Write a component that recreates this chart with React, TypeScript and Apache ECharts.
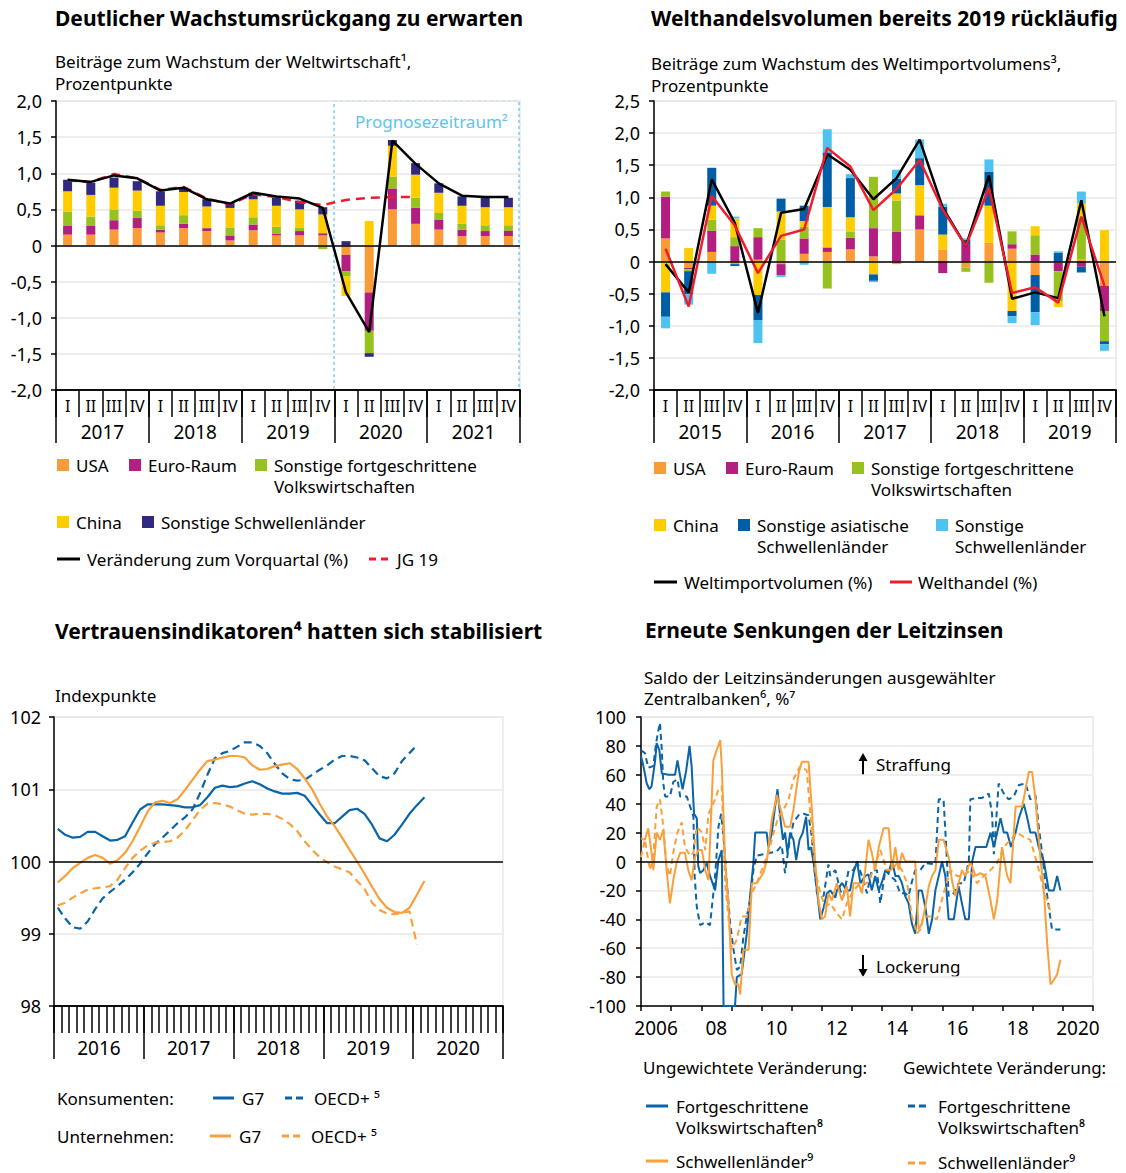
import React, { useEffect, useRef } from 'react';
import * as echarts from 'echarts';

const FONT = 'Noto Sans';

// ---------- Panel 1: Weltwirtschaft ----------
const quarterLabels = ['I', 'II', 'III', 'IV'];
const years1 = ['2017', '2018', '2019', '2020', '2021'];
const usa1 = [0.15, 0.15, 0.22, 0.24, 0.18, 0.24, 0.2, 0.07, 0.21, 0.14, 0.14, 0.14, -0.13, -0.65, 0.5, 0.3, 0.22, 0.13, 0.13, 0.13];
const euro1 = [0.12, 0.12, 0.13, 0.14, 0.04, 0.06, 0.04, 0.07, 0.08, 0.02, 0.06, 0.03, -0.23, -0.53, 0.29, 0.22, 0.14, 0.09, 0.07, 0.07];
const sonstFort1 = [0.2, 0.13, 0.15, 0.1, 0.06, 0.12, 0.01, 0.11, 0.1, 0.1, 0.05, -0.05, -0.07, -0.31, 0.16, 0.14, 0.09, 0.08, 0.08, 0.08];
const china1 = [0.28, 0.3, 0.3, 0.28, 0.27, 0.32, 0.29, 0.27, 0.25, 0.29, 0.25, 0.26, -0.27, 0.34, 0.43, 0.32, 0.28, 0.25, 0.25, 0.25];
const schwellen1 = [0.16, 0.17, 0.14, 0.13, 0.2, 0.06, 0.1, 0.07, 0.09, 0.13, 0.12, 0.1, 0.06, -0.05, 0.08, 0.16, 0.13, 0.13, 0.13, 0.13];
const vorquartal1 = [0.91, 0.88, 0.97, 0.93, 0.76, 0.8, 0.64, 0.58, 0.73, 0.68, 0.65, 0.52, -0.65, -1.2, 1.45, 1.13, 0.86, 0.69, 0.67, 0.67];
const jg19 = [0.9, 0.88, 0.99, 0.93, 0.77, 0.81, 0.65, 0.57, 0.71, 0.67, 0.6, 0.56, 0.63, 0.66, 0.67, 0.67, null, null, null, null];

// ---------- Panel 2: Welthandel ----------
const years2 = ['2015', '2016', '2017', '2018', '2019'];
const usa2 = [0.36, -0.1, 0.15, -0.04, 0.03, -0.04, 0.12, 0.15, 0.19, 0.08, -0.04, 0.5, 0.19, -0.09, 0.29, 0.2, -0.21, -0.02, 0.03, -0.38];
const euro2 = [0.65, -0.02, 0.33, 0.24, 0.35, -0.17, 0.24, 0.07, 0.18, 0.44, 0.46, 0.22, -0.18, 0.26, 0, 0.07, 0.11, -0.13, -0.08, -0.39];
const fort2 = [0.08, -0.03, 0.17, 0.14, 0.14, 0.34, 0.18, -0.42, 0.1, 0.8, 0.49, 0, 0, -0.07, -0.33, 0.2, 0.3, -0.47, 0.65, -0.47];
const china2 = [-0.48, 0.21, 0.22, 0.29, -0.52, 0.44, 0.09, 0.63, 0.22, -0.2, 0.11, 0.47, 0.23, 0, 0.58, -0.77, 0.14, -0.09, 0.23, 0.49];
const asien2 = [-0.38, -0.36, 0.59, -0.03, -0.39, 0.2, 0.24, 0.85, 0.61, -0.1, 0.23, 0.42, 0.43, 0.08, 0.53, -0.08, -0.58, 0.14, -0.09, -0.05];
const sonst2 = [-0.18, -0.16, -0.19, 0.03, -0.36, -0.03, -0.05, 0.36, 0.06, -0.02, 0.14, 0.29, 0.05, 0.02, 0.19, -0.11, -0.2, 0.02, 0.18, -0.1];
const weltimport2 = [-0.04, -0.48, 1.28, 0.6, -0.8, 0.76, 0.82, 1.67, 1.43, 0.97, 1.3, 1.9, 0.84, 0.24, 1.34, -0.58, -0.48, -0.57, 0.955, -0.85];
const welthandel2 = [0.2, -0.7, 1.02, 0.56, -0.18, 0.4, 0.5, 1.77, 1.48, 0.8, 1.13, 1.58, 0.81, 0.24, 1.15, -0.49, -0.4, -0.64, 0.7, -0.38];

// ---------- Panel 3: Vertrauensindikatoren ----------
const years3 = ['2016', '2017', '2018', '2019', '2020'];
const konsG7 = [100.45, 100.37, 100.33, 100.34, 100.41, 100.41, 100.35, 100.29, 100.3, 100.35, 100.54, 100.72, 100.79, 100.79, 100.79, 100.78, 100.77, 100.75, 100.75, 100.78, 100.89, 101.02, 101.05, 101.03, 101.04, 101.08, 101.11, 101.07, 101.01, 100.97, 100.94, 100.94, 100.95, 100.91, 100.78, 100.65, 100.53, 100.53, 100.62, 100.71, 100.73, 100.66, 100.51, 100.32, 100.28, 100.37, 100.51, 100.66, 100.78, 100.89];
const konsOECD = [99.36, 99.21, 99.09, 99.07, 99.17, 99.34, 99.49, 99.58, 99.66, 99.75, 99.85, 99.97, 100.11, 100.24, 100.33, 100.43, 100.53, 100.61, 100.72, 100.94, 101.2, 101.43, 101.5, 101.53, 101.59, 101.65, 101.65, 101.6, 101.5, 101.35, 101.22, 101.14, 101.12, 101.13, 101.2, 101.27, 101.33, 101.41, 101.46, 101.46, 101.44, 101.4, 101.29, 101.18, 101.15, 101.22, 101.39, 101.5, 101.61];
const untG7 = [99.71, 99.8, 99.91, 99.98, 100.05, 100.09, 100.05, 99.97, 100.02, 100.12, 100.28, 100.48, 100.69, 100.82, 100.84, 100.81, 100.86, 100.99, 101.13, 101.27, 101.39, 101.41, 101.44, 101.46, 101.46, 101.44, 101.33, 101.27, 101.28, 101.32, 101.34, 101.36, 101.28, 101.15, 101.0, 100.8, 100.62, 100.49, 100.33, 100.16, 100.0, 99.83, 99.65, 99.48, 99.36, 99.3, 99.29, 99.36, 99.54, 99.73];
const untOECD = [99.39, 99.43, 99.5, 99.56, 99.61, 99.63, 99.64, 99.66, 99.75, 99.91, 100.05, 100.15, 100.22, 100.26, 100.27, 100.28, 100.33, 100.43, 100.57, 100.71, 100.8, 100.81, 100.79, 100.76, 100.71, 100.66, 100.65, 100.66, 100.66, 100.64, 100.59, 100.52, 100.42, 100.28, 100.16, 100.06, 99.99, 99.93, 99.89, 99.85, 99.73, 99.62, 99.43, 99.33, 99.28, 99.27, 99.29, 99.31, 98.85];

// ---------- Panel 4: Leitzinsen ----------
const years4 = ['2006', '2007', '2008', '2009', '2010', '2011', '2012', '2013', '2014', '2015', '2016', '2017', '2018', '2019', '2020'];
const fortUngew = [[2006.0,73],[2006.08,66],[2006.19,54],[2006.28,50],[2006.35,52],[2006.47,70],[2006.52,82],[2006.61,77],[2006.69,61],[2006.91,60],[2007.13,60],[2007.21,70],[2007.3,59],[2007.38,50],[2007.5,63],[2007.61,80],[2007.68,66],[2007.76,33],[2007.85,30],[2007.9,-3],[2007.96,-8],[2008.07,-6],[2008.18,-1],[2008.29,-10],[2008.46,-20],[2008.57,1],[2008.68,8],[2008.74,-100],[2009.12,-100],[2009.18,-80],[2009.34,-78],[2009.51,-50],[2009.62,-24],[2009.73,-1],[2009.79,20],[2010.17,20],[2010.23,10],[2010.34,20],[2010.45,38],[2010.53,50],[2010.62,31],[2010.71,15],[2010.78,20],[2010.86,6],[2010.95,20],[2011.06,15],[2011.15,1],[2011.26,15],[2011.37,20],[2011.48,31],[2011.56,8],[2011.64,10],[2011.73,-1],[2011.84,-20],[2011.95,-40],[2012.06,-32],[2012.17,-22],[2012.28,-20],[2012.45,-25],[2012.5,-20],[2012.67,-15],[2012.83,-20],[2012.94,-20],[2013.05,-8],[2013.17,0],[2013.28,-15],[2013.44,-10],[2013.55,-9],[2013.66,-20],[2013.77,-10],[2013.89,-20],[2014.0,-14],[2014.11,-6],[2014.22,-8],[2014.33,1],[2014.44,-10],[2014.55,-10],[2014.66,-15],[2014.77,-24],[2014.88,-29],[2014.99,-43],[2015.1,-50],[2015.21,-20],[2015.32,-20],[2015.44,-32],[2015.55,-50],[2015.66,-40],[2015.77,-20],[2015.88,-10],[2015.99,0],[2016.1,-10],[2016.21,-40],[2016.38,-40],[2016.54,-17],[2016.65,-29],[2016.76,-40],[2016.88,-40],[2016.99,0],[2017.1,10],[2017.46,10],[2017.6,20],[2017.71,10],[2017.82,20],[2017.93,30],[2018.04,20],[2018.15,20],[2018.28,10],[2018.43,20],[2018.54,30],[2018.7,40],[2018.81,31],[2018.92,20],[2019.09,20],[2019.2,10],[2019.37,0],[2019.42,-6],[2019.53,-20],[2019.7,-20],[2019.81,-10],[2019.92,-20]];
const fortGew = [[2006.0,77],[2006.13,75],[2006.24,65],[2006.41,66],[2006.5,82],[2006.58,91],[2006.63,96],[2006.69,77],[2006.74,54],[2006.8,45],[2006.96,45],[2007.07,55],[2007.21,57],[2007.3,45],[2007.52,45],[2007.63,38],[2007.74,31],[2007.78,-10],[2007.85,-31],[2007.96,-44],[2008.13,-42],[2008.29,-44],[2008.46,-10],[2008.57,24],[2008.66,33],[2008.74,17],[2008.85,-15],[2008.96,-43],[2009.07,-61],[2009.18,-75],[2009.29,-73],[2009.4,-52],[2009.51,-38],[2009.62,-27],[2009.73,-6],[2009.84,4],[2010.06,5],[2010.29,6],[2010.51,7],[2010.67,11],[2010.78,-8],[2010.9,10],[2011.06,27],[2011.23,32],[2011.39,33],[2011.56,32],[2011.67,17],[2011.73,0],[2011.84,-22],[2012.06,-24],[2012.22,-2],[2012.28,-10],[2012.45,-6],[2012.61,-20],[2012.72,-24],[2012.89,-6],[2013.05,-6],[2013.17,0],[2013.33,-10],[2013.5,-22],[2013.66,-6],[2013.83,-6],[2013.94,-29],[2014.11,-6],[2014.27,-10],[2014.44,-13],[2014.6,-22],[2014.77,-22],[2014.88,-24],[2014.99,-14],[2015.1,-6],[2015.27,-6],[2015.44,-1],[2015.77,-2],[2015.88,43],[2016.04,43],[2016.13,10],[2016.21,-24],[2016.38,-22],[2016.54,-15],[2016.71,-15],[2016.88,0],[2016.93,43],[2017.15,44],[2017.32,44],[2017.54,47],[2017.65,33],[2017.71,5],[2017.87,54],[2018.04,47],[2018.2,43],[2018.37,45],[2018.54,53],[2018.76,54],[2018.92,43],[2019.09,46],[2019.2,24],[2019.31,6],[2019.42,-15],[2019.53,-31],[2019.64,-47],[2019.92,-47]];
const schwUngew = [[2006.0,16],[2006.13,15],[2006.24,23],[2006.35,6],[2006.41,-6],[2006.52,20],[2006.63,15],[2006.74,22],[2006.85,-6],[2006.96,-29],[2007.07,-13],[2007.18,-1],[2007.3,6],[2007.46,6],[2007.57,-6],[2007.68,-13],[2007.79,3],[2007.91,8],[2008.02,8],[2008.13,-6],[2008.24,-13],[2008.4,70],[2008.51,77],[2008.63,84],[2008.68,66],[2008.79,1],[2008.9,-29],[2009.01,-78],[2009.12,-85],[2009.23,-85],[2009.29,-92],[2009.4,-61],[2009.57,-61],[2009.68,-15],[2009.84,-15],[2010.06,-8],[2010.18,1],[2010.34,29],[2010.51,46],[2010.67,33],[2010.78,24],[2010.95,24],[2011.06,36],[2011.23,61],[2011.34,69],[2011.56,69],[2011.67,36],[2011.78,0],[2011.89,-27],[2012.0,-40],[2012.11,-38],[2012.22,-22],[2012.33,-27],[2012.5,-15],[2012.67,-27],[2012.83,-17],[2012.94,-38],[2013.05,-15],[2013.22,-15],[2013.33,-22],[2013.44,-6],[2013.55,15],[2013.66,6],[2013.77,-6],[2013.89,10],[2014.05,23],[2014.22,23],[2014.33,-6],[2014.44,10],[2014.55,-6],[2014.66,6],[2014.77,0],[2015.1,0],[2015.21,-47],[2015.32,-43],[2015.44,-31],[2015.55,-17],[2015.66,-10],[2015.77,-6],[2015.88,15],[2016.04,15],[2016.21,3],[2016.32,-13],[2016.43,-24],[2016.54,-15],[2016.65,-6],[2016.76,-10],[2016.93,0],[2017.1,-10],[2017.26,-8],[2017.43,-10],[2017.6,-27],[2017.71,-40],[2017.82,-27],[2017.98,10],[2018.15,-10],[2018.26,-15],[2018.43,38],[2018.65,38],[2018.76,50],[2018.87,62],[2018.98,62],[2019.09,43],[2019.26,1],[2019.37,-20],[2019.48,-57],[2019.59,-85],[2019.7,-82],[2019.81,-78],[2019.92,-68]];
const schwGew = [[2006.0,3],[2006.13,15],[2006.3,-6],[2006.41,4],[2006.52,38],[2006.63,43],[2006.74,24],[2006.85,-3],[2006.96,-10],[2007.07,6],[2007.21,20],[2007.35,27],[2007.46,10],[2007.63,4],[2007.74,6],[2007.85,24],[2008.02,20],[2008.13,8],[2008.24,33],[2008.46,43],[2008.57,50],[2008.68,52],[2008.79,-15],[2008.9,-38],[2009.01,-61],[2009.18,-54],[2009.34,-38],[2009.51,-38],[2009.68,-22],[2009.84,-15],[2010.06,-3],[2010.23,6],[2010.4,20],[2010.56,31],[2010.73,36],[2010.9,43],[2011.06,57],[2011.28,66],[2011.5,63],[2011.67,20],[2011.78,-6],[2011.95,-22],[2012.11,-31],[2012.28,-29],[2012.5,-36],[2012.67,-40],[2012.83,-29],[2013.05,-20],[2013.28,-15],[2013.5,-15],[2013.72,-6],[2013.94,8],[2014.16,-6],[2014.33,-6],[2014.49,-1],[2014.66,-6],[2014.83,-15],[2014.99,-38],[2015.16,-50],[2015.27,-47],[2015.38,-38],[2015.6,-38],[2015.82,-40],[2016.04,-22],[2016.27,-6],[2016.49,-10],[2016.71,-10],[2016.93,-6],[2017.15,-15],[2017.37,-10],[2017.6,-6],[2017.82,-1],[2018.04,10],[2018.26,15],[2018.48,20],[2018.7,17],[2018.92,15],[2019.14,-1],[2019.37,-20],[2019.53,-31],[2019.64,-36]];

// ---------- colours ----------
const C = {
  orange: '#F99B37', magenta: '#B31E80', green: '#97C11F', yellow: '#FFCC00', navy: '#2F2A80',
  dblue: '#005EA6', lblue: '#4EC3EF', red: '#EE1C2E', black: '#000000',
  lineBlue: '#0A64A6', lineOrange: '#F9A03C', grid: '#E9E9E9', prog: '#5BC4F1',
};

const months3 = years3.flatMap((y) => Array.from({ length: 12 }, (_, m) => `${y}-${m + 1}`));
const quarters1 = years1.flatMap((y) => quarterLabels.map((q) => `${q} ${y}`));
const quarters2 = years2.flatMap((y) => quarterLabels.map((q) => `${q} ${y}`));

const deNum = (v: number) => (v === 0 ? '0' : v.toFixed(1).replace('.', ','));

const BODY = 17;
function txt(x: number, y: number, text: string, size = BODY, weight: any = 'normal', fill = '#000', align = 'left') {
  return { type: 'text', x, y, silent: true, style: { text, fill, fontSize: size, fontFamily: FONT, fontWeight: weight, verticalAlign: 'middle', align } };
}
function sq(x: number, y: number, fill: string) {
  return { type: 'rect', silent: true, shape: { x, y: y - 6, width: 12, height: 12 }, style: { fill } };
}
function ln(x1: number, y: number, x2: number, stroke: string, dash?: number[], w = 2.5) {
  return { type: 'line', silent: true, shape: { x1, y1: y, x2, y2: y }, style: { stroke, lineWidth: w, lineDash: dash || null } };
}
function arrow(x: number, y1: number, y2: number) {
  const dir = y2 > y1 ? 1 : -1;
  return [
    { type: 'line', silent: true, shape: { x1: x, y1, x2: x, y2: y2 - dir * 6 }, style: { stroke: '#000', lineWidth: 2 } },
    { type: 'polygon', silent: true, shape: { points: [[x - 4.5, y2 - dir * 8], [x + 4.5, y2 - dir * 8], [x, y2]] }, style: { fill: '#000' } },
  ];
}

const axisBlack = { onZero: false, lineStyle: { color: '#000', width: 1.5 } };
const splitGray = { show: true, lineStyle: { color: C.grid, width: 1.5 } };

function quarterAxis(grid: number, data: string[]) {
  return {
    gridIndex: grid, type: 'category', data, position: 'bottom', boundaryGap: true,
    axisLine: axisBlack, axisTick: { show: true, length: 27, interval: 0, lineStyle: { color: '#000', width: 1.5 } },
    axisLabel: { interval: 0, margin: 8, fontSize: 16, fontFamily: FONT, color: '#000', formatter: (v: string) => v.split(' ')[0] },
    splitLine: { show: false },
  };
}
function yearAxis(grid: number, data: string[], len = 53) {
  return {
    gridIndex: grid, type: 'category', data, position: 'bottom', boundaryGap: true,
    axisLine: axisBlack, axisTick: { show: true, length: len, interval: 0, lineStyle: { color: '#000', width: 1.5 } },
    axisLabel: { interval: 0, margin: 32, fontSize: 19, fontFamily: FONT, color: '#000' },
    splitLine: { show: false },
  };
}
function yAxis(grid: number, min: number, max: number, interval: number, fmt: (v: number) => string, margin = 14) {
  return {
    gridIndex: grid, type: 'value', min, max, interval,
    axisLine: { show: true, ...axisBlack }, axisTick: { show: true, length: 5, lineStyle: { color: '#000', width: 1.5 } },
    axisLabel: { fontSize: 18, fontFamily: FONT, color: '#000', margin, formatter: fmt },
    splitLine: splitGray,
  };
}
const zeroLine = (v: number) => ({
  silent: true, symbol: 'none', label: { show: false }, animation: false,
  lineStyle: { color: '#000', width: 1.5, type: 'solid' }, data: [{ yAxis: v }],
});

function bar(name: string, data: number[], color: string, x: number, y: number, stack: string) {
  return { type: 'bar', name, data, xAxisIndex: x, yAxisIndex: y, stack, barWidth: 9, itemStyle: { color }, emphasis: { disabled: true } };
}
function line(name: string, data: any[], color: string, x: number, y: number, dash: any = 'solid', width = 2.5, extra: any = {}) {
  return { type: 'line', name, data, xAxisIndex: x, yAxisIndex: y, showSymbol: false, symbol: 'none', lineStyle: { color, width, type: dash }, itemStyle: { color }, emphasis: { disabled: true }, connectNulls: false, ...extra };
}

const option: any = {
  animation: false,
  backgroundColor: '#fff',
  textStyle: { fontFamily: FONT },
  grid: [
    { left: 56, top: 101, width: 464, height: 289, show: true, borderColor: C.grid, borderWidth: 1.5 },
    { left: 654, top: 101, width: 462, height: 289, show: true, borderColor: C.grid, borderWidth: 1.5 },
    { left: 54, top: 717, width: 449, height: 289, show: true, borderColor: C.grid, borderWidth: 1.5 },
    { left: 641, top: 717, width: 452, height: 289, show: true, borderColor: C.grid, borderWidth: 1.5 },
  ],
  xAxis: [
    quarterAxis(0, quarters1),
    yearAxis(0, years1),
    quarterAxis(1, quarters2),
    yearAxis(1, years2),
    {
      gridIndex: 2, type: 'category', data: months3, position: 'bottom', boundaryGap: true,
      axisLine: axisBlack, axisTick: { show: true, length: 27, interval: 0, lineStyle: { color: '#000', width: 1.5 } },
      axisLabel: { show: false }, splitLine: { show: false },
    },
    yearAxis(2, years3),
    {
      gridIndex: 3, type: 'category', data: years4, position: 'bottom', boundaryGap: true,
      axisLine: axisBlack, axisTick: { show: true, length: 5, interval: 0, lineStyle: { color: '#000', width: 1.5 } },
      axisLabel: { interval: 1, margin: 12, fontSize: 19, fontFamily: FONT, color: '#000',
        formatter: (v: string) => (v === '2006' || v === '2020' ? v : v.slice(2)) },
      splitLine: { show: false },
    },
    { gridIndex: 3, type: 'value', min: 2006, max: 2021, show: false },
  ],
  yAxis: [
    yAxis(0, -2, 2, 0.5, deNum, 14),
    yAxis(1, -2, 2.5, 0.5, deNum, 14),
    yAxis(2, 98, 102, 1, (v) => String(v), 13),
    yAxis(3, -100, 100, 20, (v) => String(v), 15),
  ],
  series: [
    bar('USA', usa1, C.orange, 0, 0, 'p1'),
    bar('Euro-Raum', euro1, C.magenta, 0, 0, 'p1'),
    bar('Sonstige fortgeschrittene Volkswirtschaften', sonstFort1, C.green, 0, 0, 'p1'),
    bar('China', china1, C.yellow, 0, 0, 'p1'),
    bar('Sonstige Schwellenländer', schwellen1, C.navy, 0, 0, 'p1'),
    line('JG 19', jg19, C.red, 0, 0, [9, 6], 2.5),
    line('Veränderung zum Vorquartal (%)', vorquartal1, C.black, 0, 0, 'solid', 2.5, { markLine: zeroLine(0) }),

    bar('USA', usa2, C.orange, 2, 1, 'p2'),
    bar('Euro-Raum', euro2, C.magenta, 2, 1, 'p2'),
    bar('Sonstige fortgeschrittene Volkswirtschaften', fort2, C.green, 2, 1, 'p2'),
    bar('China', china2, C.yellow, 2, 1, 'p2'),
    bar('Sonstige asiatische Schwellenländer', asien2, C.dblue, 2, 1, 'p2'),
    bar('Sonstige Schwellenländer', sonst2, C.lblue, 2, 1, 'p2'),
    line('Weltimportvolumen (%)', weltimport2, C.black, 2, 1, 'solid', 2.5),
    line('Welthandel (%)', welthandel2, C.red, 2, 1, 'solid', 2.5, { markLine: zeroLine(0) }),

    line('Konsumenten G7', konsG7, C.lineBlue, 4, 2, 'solid', 2.2, { markLine: zeroLine(100) }),
    line('Konsumenten OECD+', konsOECD, C.lineBlue, 4, 2, [8, 5], 2.2),
    line('Unternehmen G7', untG7, C.lineOrange, 4, 2, 'solid', 2.2),
    line('Unternehmen OECD+', untOECD, C.lineOrange, 4, 2, [8, 5], 2.2),

    line('Ungewichtet Fortgeschrittene', fortUngew, C.lineBlue, 7, 3, 'solid', 2, { markLine: zeroLine(0) }),
    line('Gewichtet Fortgeschrittene', fortGew, C.lineBlue, 7, 3, [6, 4], 2),
    line('Ungewichtet Schwellenländer', schwUngew, C.lineOrange, 7, 3, 'solid', 2),
    line('Gewichtet Schwellenländer', schwGew, C.lineOrange, 7, 3, [6, 4], 2),
  ],
  graphic: [
    // Panel 1
    txt(55, 18, 'Deutlicher Wachstumsrückgang zu erwarten', 21, 'bold'),
    txt(55, 61, 'Beiträge zum Wachstum der Weltwirtschaft¹,'),
    txt(55, 83, 'Prozentpunkte'),
    { type: 'rect', silent: true, shape: { x: 334, y: 101, width: 185, height: 289 }, style: { fill: 'none', stroke: C.prog, lineWidth: 1.2, lineDash: [3, 3] } },
    txt(355, 121, 'Prognosezeitraum²', BODY, 'normal', C.prog),
    sq(57, 465, C.orange), txt(76, 465, 'USA'),
    sq(129, 465, C.magenta), txt(148, 465, 'Euro-Raum'),
    sq(255, 465, C.green), txt(274, 465, 'Sonstige fortgeschrittene'), txt(274, 486, 'Volkswirtschaften'),
    sq(57, 522, C.yellow), txt(76, 522, 'China'),
    sq(142, 522, C.navy), txt(161, 522, 'Sonstige Schwellenländer'),
    ln(57, 559, 80, C.black, undefined, 3), txt(87, 559, 'Veränderung zum Vorquartal (%)'),
    ln(369, 559, 391, C.red, [7, 5], 3), txt(397, 559, 'JG 19'),
    // Panel 2
    txt(651, 18, 'Welthandelsvolumen bereits 2019 rückläufig', 21, 'bold'),
    txt(651, 63, 'Beiträge zum Wachstum des Weltimportvolumens³,'),
    txt(651, 85, 'Prozentpunkte'),
    sq(654, 468, C.orange), txt(673, 468, 'USA'),
    sq(726, 468, C.magenta), txt(745, 468, 'Euro-Raum'),
    sq(852, 468, C.green), txt(871, 468, 'Sonstige fortgeschrittene'), txt(871, 489, 'Volkswirtschaften'),
    sq(654, 525, C.yellow), txt(673, 525, 'China'),
    sq(738, 525, C.dblue), txt(757, 525, 'Sonstige asiatische'), txt(757, 546, 'Schwellenländer'),
    sq(936, 525, C.lblue), txt(955, 525, 'Sonstige'), txt(955, 546, 'Schwellenländer'),
    ln(654, 582, 677, C.black, undefined, 3), txt(684, 582, 'Weltimportvolumen (%)'),
    ln(890, 582, 912, C.red, undefined, 3), txt(918, 582, 'Welthandel (%)'),
    // Panel 3
    txt(55, 631, 'Vertrauensindikatoren⁴ hatten sich stabilisiert', 21, 'bold'),
    txt(55, 695, 'Indexpunkte'),
    txt(57, 1098, 'Konsumenten:'),
    ln(213, 1098, 234, C.lineBlue, undefined, 3), txt(242, 1098, 'G7'),
    ln(285, 1098, 306, C.lineBlue, [7, 4], 3), txt(314, 1098, 'OECD+ ⁵'),
    txt(57, 1136, 'Unternehmen:'),
    ln(210, 1136, 231, C.lineOrange, undefined, 3), txt(239, 1136, 'G7'),
    ln(282, 1136, 303, C.lineOrange, [7, 4], 3), txt(311, 1136, 'OECD+ ⁵'),
    // Panel 4
    txt(645, 630, 'Erneute Senkungen der Leitzinsen', 21, 'bold'),
    txt(644, 677, 'Saldo der Leitzinsänderungen ausgewählter'),
    txt(644, 698, 'Zentralbanken⁶, %⁷'),
    ...arrow(863, 775, 753), txt(876, 764, 'Straffung'),
    ...arrow(863, 955, 977), txt(876, 966, 'Lockerung'),
    txt(643, 1067, 'Ungewichtete Veränderung:'),
    txt(903, 1067, 'Gewichtete Veränderung:'),
    ln(646, 1106, 668, C.lineBlue, undefined, 3), txt(676, 1106, 'Fortgeschrittene'), txt(676, 1127, 'Volkswirtschaften⁸'),
    ln(908, 1106, 930, C.lineBlue, [7, 4], 3), txt(938, 1106, 'Fortgeschrittene'), txt(938, 1127, 'Volkswirtschaften⁸'),
    ln(646, 1161, 668, C.lineOrange, undefined, 3), txt(676, 1161, 'Schwellenländer⁹'),
    ln(908, 1163, 930, C.lineOrange, [7, 4], 3), txt(938, 1162, 'Schwellenländer⁹'),
  ],
};

export default function App() {
  const ref = useRef<HTMLDivElement>(null);
  useEffect(() => {
    if (!ref.current) return;
    const chart = echarts.init(ref.current, null, { renderer: 'svg' });
    chart.setOption(option);
    return () => chart.dispose();
  }, []);
  return <div ref={ref} style={{ position: 'absolute', left: 0, top: 0, width: 1126, height: 1173, background: '#fff' }} />;
}
